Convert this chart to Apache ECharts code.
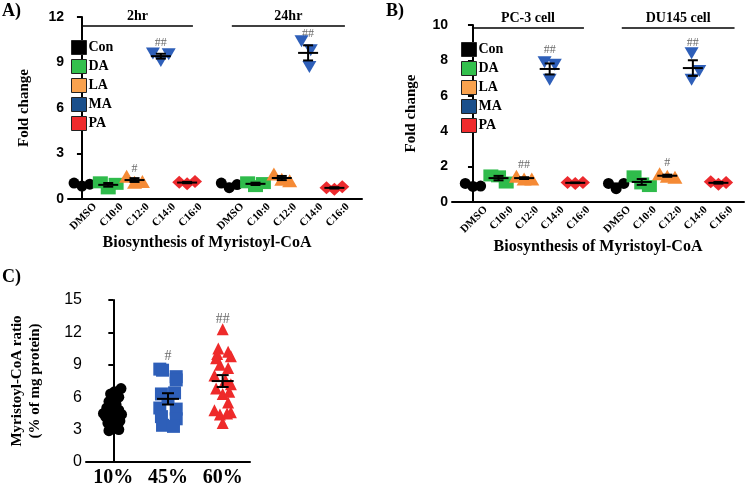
<!DOCTYPE html>
<html><head><meta charset="utf-8">
<script src="https://cdn.jsdelivr.net/npm/echarts@6/dist/echarts.min.js"></script>
<style>html,body{margin:0;padding:0;background:#fff}#c{width:745px;height:488px}</style>
</head><body><div id="c"></div>
<script>
// ---------- data ----------
const seriesNames = ['Con','DA','LA','MA','PA'];
const catLabels = ['DMSO','C10:0','C12:0','C14:0','C16:0','DMSO','C10:0','C12:0','C14:0','C16:0'];
// category slot of each group (two sub-groups of five with a gap)
const catPos = [0,1,2,3,4,5.6,6.6,7.6,8.6,9.6];
const jitter3 = [-0.3, 0, 0.3];

// Panel A : 2hr / 24hr
const A_Con = [[1.05,0.85,0.98],[1.05,0.75,0.95]];
const A_DA  = [[1.1,0.7,1.0],[1.1,0.85,1.05]];
const A_LA  = [[1.5,1.1,1.15],[1.65,1.3,1.2]];
const A_MA  = [[9.6,9.55,9.1],[10.4,9.8,8.7]];
const A_PA  = [[1.1,1.0,1.15],[0.75,0.65,0.8]];
const A_MAjit = [[-0.3,0.3,0],[-0.25,0.1,0.05]];
const A_groups = ['2hr','24hr'];
const A_sig = [['##',3,10.3],['#',2,2.0],['##',8.6,10.9]];

// Panel B : PC-3 / DU145
const B_Con = [[1.05,0.88,0.9],[1.05,0.75,1.05]];
const B_DA  = [[1.5,1.45,1.1],[1.45,1.05,0.9]];
const B_LA  = [[1.45,1.3,1.3],[1.6,1.45,1.4]];
const B_MA  = [[7.9,7.75,6.9],[8.4,7.4,6.9]];
const B_PA  = [[1.1,1.05,1.1],[1.15,1.0,1.1]];
const B_MAjit = [[-0.2,0.2,0],[-0.05,0.25,-0.05]];
const B_groups = ['PC-3 cell','DU145 cell'];
const B_sig = [['##',3,8.6],['##',2,2.1],['#',7.6,2.2],['##',8.6,9.0]];

// Panel C
const C_cats = ['10%','45%','60%'];
const C_10 = [6.8,6.5,6.3,6.0,5.6,5.3,5.0,4.8,4.6,4.4,4.2,4.0,3.8,3.6,3.4,3.2,3.0,2.9,4.5,3.9];
const C_10jit = [0.14,0.02,-0.05,0.1,-0.08,0.05,-0.12,0.1,-0.02,0.15,-0.14,0.04,0.12,-0.1,0.08,-0.04,0.1,-0.08,-0.18,0.0];
const C_45 = [8.6,8.5,7.9,7.6,6.4,6.3,5.9,5.0,4.9,4.2,4.0,3.4,3.3];
const C_45jit = [-0.15,-0.1,0.15,0.15,0.12,-0.12,0.0,-0.15,0.15,-0.12,0.15,-0.1,0.1];
const C_60 = [12.3,10.5,10.2,10.0,9.8,9.6,9.0,8.7,8.0,7.6,7.2,6.8,6.3,6.5,5.5,4.8,4.6,4.4,4.5,3.6];
const C_60jit = [0,-0.08,0.1,-0.1,0.15,-0.12,-0.05,0.1,-0.15,0.05,0.15,-0.12,0.0,0.12,0.1,-0.15,0.15,-0.05,0.08,0.0];
const C_sig = [['#',1,9.8],['##',2,13.2]];

// ---------- styles ----------
const colors = {Con:'#000000', DA:'#2fbb4b', LA:'#f58a35', MA:'#2e5fb9', PA:'#ec2a2e'};
const legendColors = {Con:'#000000', DA:'#33c04d', LA:'#f9a24e', MA:'#1a4f8b', PA:'#ef2b2d'};
const symbols = {Con:'circle', DA:'rect', LA:'triangle', MA:'path://M0,0 L10,0 L5,9 Z', PA:'diamond'};
const symSize = {Con:11, DA:[15,12], LA:[15,13], MA:[14,12], PA:[14,13]};
const serif = 'Liberation Serif, Times New Roman, serif';
const sans = 'Liberation Sans, Arial, sans-serif';

function mean(a){return a.reduce((s,v)=>s+v,0)/a.length;}
function sem(a){const m=mean(a);const v=a.reduce((s,x)=>s+(x-m)*(x-m),0)/(a.length-1);return Math.sqrt(v)/Math.sqrt(a.length);}

function errRender(hw, cap){
  return function(params, api){
    const x=api.value(0), m=api.value(1), s=api.value(2);
    const c=api.coord([x,m]), hi=api.coord([x,m+s]), lo=api.coord([x,m-s]);
    const st={stroke:'#000', lineWidth:2};
    return {type:'group', children:[
      {type:'line', shape:{x1:c[0]-hw,y1:c[1],x2:c[0]+hw,y2:c[1]}, style:st},
      {type:'line', shape:{x1:c[0],y1:hi[1],x2:c[0],y2:lo[1]}, style:st},
      {type:'line', shape:{x1:c[0]-cap,y1:hi[1],x2:c[0]+cap,y2:hi[1]}, style:st},
      {type:'line', shape:{x1:c[0]-cap,y1:lo[1],x2:c[0]+cap,y2:lo[1]}, style:st}
    ]};
  };
}

function panelSeries(idx, dataMap, maJit, sig, groups, bracket){
  const out=[]; const errData=[];
  seriesNames.forEach((nm, si)=>{
    const pts=[];
    dataMap[nm].forEach((vals, g)=>{
      const p = catPos[g*5+si];
      vals.forEach((v,k)=>{
        const j = nm==='MA' ? maJit[g][k] : jitter3[k];
        pts.push([p+j, v]);
      });
      errData.push([p, mean(vals), sem(vals)]);
    });
    out.push({name:nm, type:'scatter', xAxisIndex:idx, yAxisIndex:idx, data:pts,
      symbol:symbols[nm], symbolSize:symSize[nm], itemStyle:{color:colors[nm], opacity:1}, z:3});
  });
  out.push({type:'custom', xAxisIndex:idx, yAxisIndex:idx, data:errData, renderItem:errRender(10,5), z:5, silent:true});
  out.push({type:'scatter', xAxisIndex:idx, yAxisIndex:idx, symbolSize:0, silent:true,
    data:sig.map(s=>({name:s[0], value:[s[1],s[2]]})),
    label:{show:true, position:'inside', formatter:'{b}', color:'#444', fontFamily:serif, fontSize:12}});
  // group brackets
  out.push({type:'scatter', xAxisIndex:idx, yAxisIndex:idx, data:[], silent:true,
    markLine:{silent:true, symbol:['none','none'], animation:false,
      lineStyle:{color:'#000', width:1.5, type:'solid'},
      label:{show:true, position:'insideMiddleTop', formatter:'{b}', color:'#000', fontFamily:serif, fontWeight:'bold', fontSize:14, distance:3},
      data: groups.map((gname,g)=>[{name:gname, coord:[bracket[g][0], bracket[2]]},{coord:[bracket[g][1], bracket[2]]}])
    }});
  return out;
}

const labelPos = catPos.map(p=>p+0.5);
function xAxisAB(idx, min, max, nameGap, pad){
  return {type:'value', gridIndex:idx, min:min, max:max, splitLine:{show:false},
    axisLine:{show:true, onZero:false, lineStyle:{color:'#000', width:2}},
    axisTick:{show:false},
    axisLabel:{show:true, customValues:labelPos, rotate:45, margin:6, fontFamily:serif, fontWeight:'bold', fontSize:11, color:'#000',
      formatter:function(v){let best=0,bd=1e9;labelPos.forEach((p,i)=>{const d=Math.abs(p-v);if(d<bd){bd=d;best=i;}});return catLabels[best];}},
    name:'Biosynthesis of Myristoyl-CoA', nameLocation:'middle', nameGap:nameGap,
    nameTextStyle:{fontFamily:serif, fontWeight:'bold', fontSize:16, color:'#000', padding:pad}};
}
function yAxis(idx, max, interval, nameGap, name, lblStyle){
  return {type:'value', gridIndex:idx, min:0, max:max, interval:interval, splitLine:{show:false},
    axisLine:{show:true, lineStyle:{color:'#000', width:2}},
    axisTick:{show:true, length:5, lineStyle:{color:'#000', width:2}},
    axisLabel:Object.assign({margin:4, color:'#000', fontFamily:sans}, lblStyle),
    name:name, nameLocation:'middle', nameGap:nameGap, nameRotate:90,
    nameTextStyle:{fontFamily:serif, fontWeight:'bold', fontSize:15, color:'#000', lineHeight:18}};
}

const legendCommon = {orient:'vertical', icon:'rect', itemWidth:15, itemHeight:14, itemGap:4, selectedMode:false,
  itemStyle:{borderColor:'#222', borderWidth:1},
  textStyle:{fontFamily:serif, fontWeight:'bold', fontSize:14, color:'#000', padding:[0,0,0,-3]},
  data:seriesNames.map(n=>({name:n, itemStyle:{color:legendColors[n]}}))};

const mapA={Con:A_Con,DA:A_DA,LA:A_LA,MA:A_MA,PA:A_PA};
const mapB={Con:B_Con,DA:B_DA,LA:B_LA,MA:B_MA,PA:B_PA};

const series = []
  .concat(panelSeries(0, mapA, A_MAjit, A_sig, A_groups, [[0,4.22],[5.7,10.0],11.4]))
  .concat(panelSeries(1, mapB, B_MAjit, B_sig, B_groups, [[-0.04,4.34],[5.82,10.23],9.83]));

// Panel C
const cSets=[[C_10,C_10jit,'circle',11,'#000'],[C_45,C_45jit,'rect',13,'#2e5fb9'],[C_60,C_60jit,'triangle',12,'#ee2a2a']];
const cErr=[];
cSets.forEach((s,i)=>{
  series.push({type:'scatter', xAxisIndex:2, yAxisIndex:2, symbol:s[2], symbolSize:s[3],
    itemStyle:{color:s[4], opacity:1}, data:s[0].map((v,k)=>[i+s[1][k], v]), z:3});
  cErr.push([i, mean(s[0]), sem(s[0])]);
});
series.push({type:'custom', xAxisIndex:2, yAxisIndex:2, data:cErr, renderItem:errRender(11,6), z:5, silent:true});
series.push({type:'scatter', xAxisIndex:2, yAxisIndex:2, symbolSize:0, silent:true,
  data:C_sig.map(s=>({name:s[0], value:[s[1],s[2]]})),
  label:{show:true, position:'inside', formatter:'{b}', color:'#444', fontFamily:serif, fontSize:14}});

const option = {
  animation:false,
  grid:[
    {left:68, top:17, width:294, height:182},
    {left:452, top:25, width:292, height:177},
    {left:86, top:300, width:164, height:167}
  ],
  xAxis:[
    xAxisAB(0, -0.53, 10.65, 33, [0,16,0,0]),
    xAxisAB(1, -0.82, 10.6, 37, [0,0,0,0]),
    {type:'value', gridIndex:2, min:-0.5, max:2.5, splitLine:{show:false},
     axisLine:{show:true, onZero:false, lineStyle:{color:'#000', width:2}}, axisTick:{show:false},
     axisLabel:{customValues:[0,1,2], margin:6, fontFamily:serif, fontWeight:'bold', fontSize:20, color:'#000',
       formatter:function(v){return C_cats[Math.round(v)];}}}
  ],
  yAxis:[
    yAxis(0, 12, 3, 35, 'Fold change', {fontSize:14, fontWeight:'bold'}),
    yAxis(1, 10, 2, 32, 'Fold change', {fontSize:14, fontWeight:'bold'}),
    yAxis(2, 15, 3, 42, 'Myristoyl-CoA ratio\n(% of mg protein)', {fontSize:16})
  ],
  legend:[
    Object.assign({left:66, top:35}, legendCommon),
    Object.assign({left:456, top:37}, legendCommon)
  ],
  graphic:[
    {type:'text', left:2, top:2, style:{text:'A)', font:'bold 18px '+serif, fill:'#000'}},
    {type:'text', left:386, top:2, style:{text:'B)', font:'bold 18px '+serif, fill:'#000'}},
    {type:'text', left:2, top:268, style:{text:'C)', font:'bold 18px '+serif, fill:'#000'}}
  ],
  series:series
};
const chart = echarts.init(document.getElementById('c'), null, {renderer:'canvas'});
chart.setOption(option);
</script></body></html>
